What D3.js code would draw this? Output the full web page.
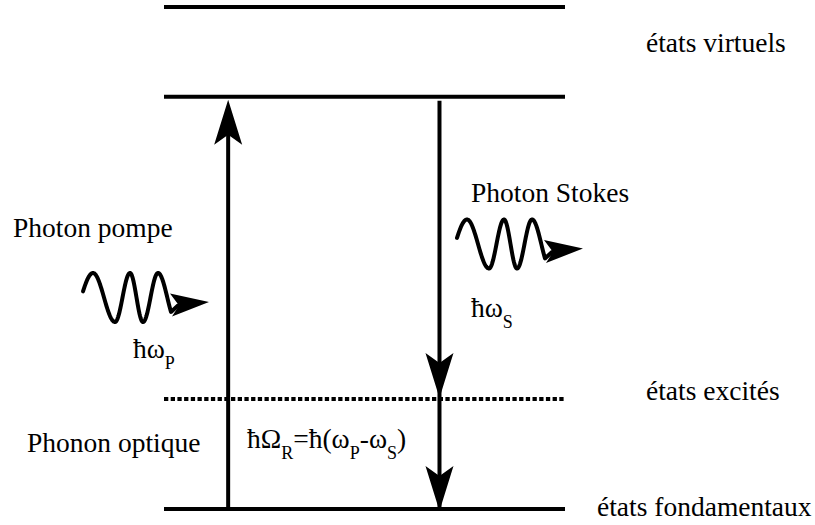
<!DOCTYPE html>
<html><head><meta charset="utf-8">
<script src="https://cdn.jsdelivr.net/npm/d3@7"></script>
</head><body style="margin:0">
<svg id="chart" width="815" height="525"></svg>
<script>
// ---- data ----
const levelNames = ["fondamental", "excité", "virtuel 1", "virtuel 2"];
const levelEnergies = [0, 0.219, 0.821, 1.0];
const stateLabels = ["états fondamentaux", "états excités", "états virtuels"];
const stateLabelEnergies = [-0.014, 0.217, 0.910];
const photonLabels = ["Photon pompe", "Photon Stokes", "Phonon optique"];
const transitions = [
  {name: "pompe", from: 0, to: 2},
  {name: "Stokes", from: 2, to: 0, via: 1}
];

// ---- scales ----
const svg = d3.select("#chart");
const y = d3.scaleLinear().domain([0, 1]).range([509, 7]);
const x = d3.scaleLinear().domain([0, 1]).range([164, 565]);
const fs = 27.5, subFs = 18;
const FAM = "'Liberation Serif'";

// ---- energy levels ----
svg.append("g").selectAll("line").data(levelEnergies).join("line")
  .attr("x1", x(0)).attr("x2", x(1))
  .attr("y1", d => y(d)).attr("y2", d => y(d))
  .attr("stroke", "#000").attr("stroke-width", 4)
  .attr("stroke-dasharray", (d, i) => levelNames[i] === "excité" ? "4.3,2.4" : null);

// ---- vertical arrows ----
function head(g, tx, ty, dir) {
  const L = 45, N = 35, W = 14;
  g.append("path")
    .attr("d", `M${tx},${ty} L${tx - W},${ty - dir * L} L${tx},${ty - dir * N} L${tx + W},${ty - dir * L} Z`)
    .attr("fill", "#000");
}
const xPump = x(0.16), xStokes = x(0.687);
const ga = svg.append("g");
ga.append("line").attr("x1", xPump).attr("x2", xPump)
  .attr("y1", y(levelEnergies[transitions[0].from])).attr("y2", y(levelEnergies[transitions[0].to]) + 30)
  .attr("stroke", "#000").attr("stroke-width", 4);
head(ga, xPump, y(levelEnergies[transitions[0].to]) + 3, -1);
ga.append("line").attr("x1", xStokes).attr("x2", xStokes)
  .attr("y1", y(levelEnergies[transitions[1].from]) + 4).attr("y2", y(levelEnergies[transitions[1].to]))
  .attr("stroke", "#000").attr("stroke-width", 4);
head(ga, xStokes, y(levelEnergies[transitions[1].via]) - 1, 1);
head(ga, xStokes, y(levelEnergies[transitions[1].to]) + 2, 1);

// ---- wavy photon glyphs ----
const phase = d3.scaleLinear()
  .domain([0, 10, 32, 47, 60, 75, 88])
  .range([0.25, Math.PI / 2, 3 * Math.PI / 2, 5 * Math.PI / 2, 7 * Math.PI / 2, 9 * Math.PI / 2, 5.2 * Math.PI]);
function wave(x0, cy) {
  const A = 24.5;
  const pts = d3.range(0, 88.5, 0.5).map(t => [x0 + t, cy - A * Math.sin(phase(t))]);
  pts.push([x0 + 95, cy + 8]);
  const g = svg.append("g");
  g.append("path").attr("d", d3.line()(pts))
    .attr("fill", "none").attr("stroke", "#000").attr("stroke-width", 4)
    .attr("stroke-linejoin", "round").attr("stroke-linecap", "round");
  g.append("path")
    .attr("d", `M${x0 + 126},${cy + 4.5} L${x0 + 87},${cy - 4} L${x0 + 96},${cy + 8} L${x0 + 89},${cy + 19} Z`)
    .attr("fill", "#000");
}
wave(83, 297.5);
wave(457, 244);

// ---- texts ----
const plain = [
  ...stateLabels.map((d, i) => ({s: d, x: i === 0 ? 597 : 646, y: y(stateLabelEnergies[i])})),
  {s: photonLabels[0], x: 13, y: 237},
  {s: photonLabels[1], x: 471, y: 202},
  {s: photonLabels[2], x: 27, y: 452}
];
svg.append("g").selectAll("text").data(plain).join("text")
  .attr("x", d => d.x).attr("y", d => d.y)
  .attr("font-size", fs).attr("font-family", FAM)
  .text(d => d.s);

function formula(xp, yp, parts) {
  const t = svg.append("text").attr("x", xp).attr("y", yp)
    .attr("font-size", fs).attr("font-family", FAM);
  let shifted = false;
  parts.forEach(p => {
    const s = t.append("tspan").attr("font-family", FAM).text(p[0]);
    if (p[1]) { s.attr("font-size", subFs).attr("dy", shifted ? 0 : 11); shifted = true; }
    else { s.attr("font-size", fs); if (shifted) s.attr("dy", -11); shifted = false; }
  });
}
formula(133, 358, [["ħω"], ["P", 1]]);
formula(471, 317, [["ħω"], ["S", 1]]);
formula(247, 448, [["ħΩ"], ["R", 1], ["=ħ(ω"], ["P", 1], ["-ω"], ["S", 1], [")"]]);
</script>
</body></html>
